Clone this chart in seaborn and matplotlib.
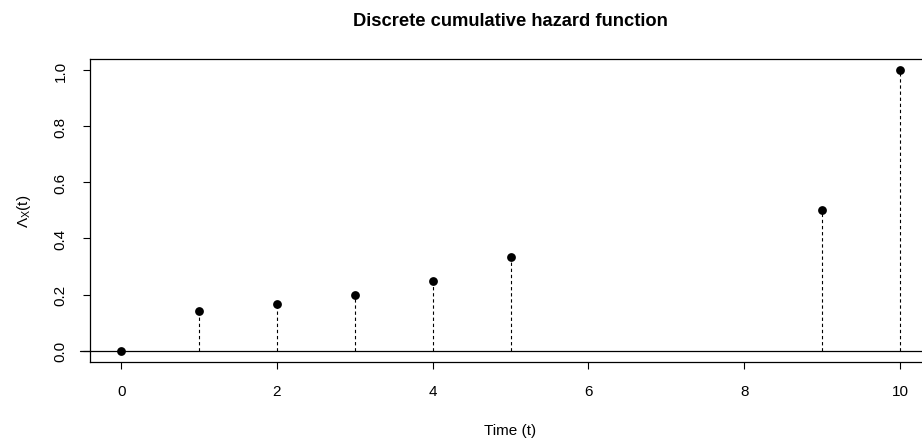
import numpy as np
import pandas as pd
import seaborn as sns
from matplotlib import pyplot as plt

# data
times = [0, 1, 2, 3, 4, 5, 9, 10]
hazard = [0.0, 0.1429, 0.1667, 0.2, 0.25, 0.3333, 0.5, 1.0]
x_ticks = [0, 2, 4, 6, 8, 10]
y_ticks = [0.0, 0.2, 0.4, 0.6, 0.8, 1.0]
y_tick_labels = ['0.0', '0.2', '0.4', '0.6', '0.8', '1.0']

sns.set_style('white')
plt.rcParams['font.family'] = ['Liberation Sans', 'DejaVu Sans']
plt.rcParams['mathtext.fontset'] = 'custom'
plt.rcParams['mathtext.rm'] = 'Liberation Sans'
plt.rcParams['text.color'] = 'black'
plt.rcParams['axes.labelcolor'] = 'black'
plt.rcParams['xtick.color'] = 'black'
plt.rcParams['ytick.color'] = 'black'

df = pd.DataFrame({'t': times, 'h': hazard})

fig = plt.figure(figsize=(9.22, 4.39), dpi=100)
ax = fig.add_axes([0.0976, 0.1731, 0.9122, 0.6907])

# dashed stems from zero up to each point
ax.vlines(df['t'], 0, df['h'], colors='black', linestyles=(0, (3, 2.5)), linewidth=0.8)
sns.scatterplot(data=df, x='t', y='h', ax=ax, color='black', s=40,
                edgecolor='black', linewidth=0, zorder=3)
# reference line at zero, running slightly past the box like abline
ax.axhline(0, xmin=-0.012, xmax=1.0, color='black', linewidth=0.9, clip_on=False)

ax.set_xlim(-0.4, 10.4)
ax.set_ylim(-0.04, 1.04)
ax.set_xticks(x_ticks)
ax.set_xticklabels([str(v) for v in x_ticks])
ax.set_yticks(y_ticks)
ax.set_yticklabels(y_tick_labels, rotation=90, va='center')

for s in ax.spines.values():
    s.set_visible(True)
    s.set_color('black')
    s.set_linewidth(0.9)

ax.tick_params(axis='both', direction='out', length=5, width=0.8,
               color='black', labelcolor='black', labelsize=11, pad=11,
               bottom=True, left=True)

ax.set_xlabel('Time (t)', fontsize=11, labelpad=18, color='black')
ax.set_ylabel(r'$\mathregular{\Lambda_X(t)}$', fontsize=11, labelpad=15, color='black')
ax.set_title('Discrete cumulative hazard function', fontsize=13.2,
             fontweight='bold', pad=24, color='black')

fig.savefig('out.png', dpi=100)
